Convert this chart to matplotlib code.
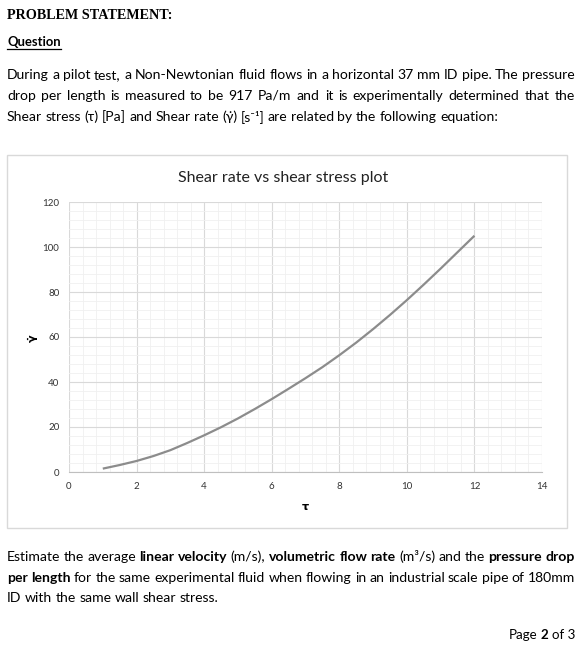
import matplotlib
matplotlib.use('Agg')
import matplotlib.pyplot as plt
from matplotlib.patches import Rectangle
from matplotlib.lines import Line2D
from matplotlib.ticker import MultipleLocator

# values
tau = [1, 1.5, 2, 2.5, 3, 3.5, 4, 4.5, 5, 5.5, 6, 6.5,
       7, 7.5, 8, 8.5, 9, 9.5, 10, 10.5, 11, 11.5, 12]
gamma = [1.5, 3.1, 4.9, 7.1, 9.7, 12.9, 16.3, 19.9, 23.8, 28.0, 32.4, 37.0,
         41.7, 46.6, 51.9, 57.5, 63.5, 69.8, 76.4, 83.3, 90.4, 97.7, 105.0]
x_ticks = [0, 2, 4, 6, 8, 10, 12, 14]
y_ticks = [0, 20, 40, 60, 80, 100, 120]

intro = [
    [("During a pilot test, a Non-Newtonian fluid flows in a horizontal 37 mm ID pipe. The pressure", False)],
    [("drop per length is measured to be 917 Pa/m and it is experimentally determined that the", False)],
    [("Shear stress (τ) [Pa] and Shear rate (γ̇) [s⁻¹] are related by the following equation:", False)],
]
outro = [
    [("Estimate the average", False), ("linear velocity", True), ("(m/s),", False),
     ("volumetric flow rate", True), ("(m³/s) and the", False), ("pressure drop", True)],
    [("per length", True), ("for the same experimental fluid when flowing in an industrial scale pipe of 180mm", False)],
    [("ID with the same wall shear stress.", False)],
]

W, H = 580, 646
fig = plt.figure(figsize=(W / 100, H / 100), dpi=100)
renderer = fig.canvas.get_renderer()
FAM = ['Lato', 'DejaVu Sans']
X0, X1 = 7, 575
MIN_GAP = 3.4


def px(x, y):
    return x / W, 1 - y / H


def put(x, y, s, bold=False, size=10, family=FAM, **kw):
    return fig.text(*px(x, y), s, fontsize=size, family=family,
                    fontweight='bold' if bold else 'normal', va='baseline', **kw)


def words_of(parts):
    return [(w, b) for text, b in parts for w in text.split()]


def natural(parts, size):
    ts = [put(0, 0, w, b, size) for w, b in words_of(parts)]
    total = sum(t.get_window_extent(renderer).width for t in ts)
    for t in ts:
        t.remove()
    return total, len(ts)


# biggest body size that lets every justified line keep a real word gap
BODY = 11.0
for parts in [intro[0], intro[1], outro[0], outro[1]]:
    total, n = natural(parts, 10)
    BODY = min(BODY, 10 * (X1 - X0 - MIN_GAP * (n - 1)) / total)


def line(y, parts, justify=True, size=None):
    size = size or BODY
    ts = [put(0, y, w, b, size) for w, b in words_of(parts)]
    widths = [t.get_window_extent(renderer).width for t in ts]
    gap = MIN_GAP
    if justify and len(ts) > 1:
        gap = (X1 - X0 - sum(widths)) / (len(ts) - 1)
    x = X0
    for t, w in zip(ts, widths):
        t.set_x(x / W)
        x += w + gap


put(7, 19, "PROBLEM STATEMENT:", True, 10.2, family=['Liberation Serif'])
q = put(7, 46, "Question", True, 9.4)
qw = q.get_window_extent(renderer).width
fig.add_artist(Line2D([7 / W, (7 + qw) / W], [1 - 49 / H] * 2, color='black', lw=0.9))

for i, parts in enumerate(intro):
    line(79 + 21 * i, parts, justify=(i < 2))
for i, parts in enumerate(outro):
    line(561 + 20.5 * i, parts, justify=(i < 2))

t = put(575, 639, "of 3", False, 9.6, ha='right')
tw = t.get_window_extent(renderer).width
t2 = put(575 - tw - 3, 639, "2", True, 9.6, ha='right')
t2w = t2.get_window_extent(renderer).width
put(575 - tw - t2w - 6, 639, "Page", False, 9.6, ha='right')

# chart frame
fig.add_artist(Rectangle(px(7, 528), 560 / W, 373 / H, transform=fig.transFigure,
                         fill=False, edgecolor='#d9d9d9', lw=1))

ax = fig.add_axes([69 / W, 1 - 472 / H, (542 - 69) / W, (472 - 202) / H])
ax.plot(tau, gamma, color='#8c8c8c', lw=1.6, solid_capstyle='butt')
ax.set_xlim(0, 14)
ax.set_ylim(0, 120)
ax.set_xticks(x_ticks)
ax.set_yticks(y_ticks)
ax.xaxis.set_minor_locator(MultipleLocator(0.4))
ax.yaxis.set_minor_locator(MultipleLocator(4))
ax.grid(which='major', color='#d9d9d9', lw=0.8)
ax.grid(which='minor', color='#f0f0f0', lw=0.6)
ax.set_axisbelow(True)
for s in ['left', 'top', 'right']:
    ax.spines[s].set_visible(False)
ax.spines['bottom'].set_color('#bfbfbf')
ax.tick_params(which='both', length=0, labelsize=7, labelcolor='#333333', pad=7)
for lab in ax.get_xticklabels() + ax.get_yticklabels():
    lab.set_family(FAM)

fig.text(*px(283, 182), "Shear rate vs shear stress plot", fontsize=11.5, family=FAM,
         ha='center', va='baseline', color='#222222')
fig.text(*px(33, 338), "γ̇", fontsize=8, fontweight='bold', family=['DejaVu Sans'],
         rotation=90, ha='center', va='center')
fig.text(*px(305, 507), "τ", fontsize=8, fontweight='bold', family=['DejaVu Sans'],
         ha='center', va='center')

fig.savefig('out.png', dpi=100)
